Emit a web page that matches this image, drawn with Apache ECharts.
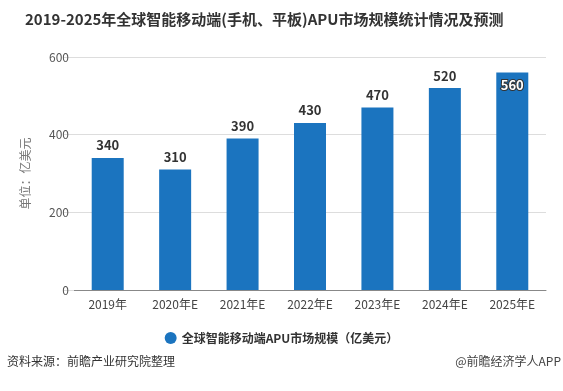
<!DOCTYPE html>
<html><head><meta charset="utf-8">
<script src="https://cdn.jsdelivr.net/npm/echarts@6/dist/echarts.min.js"></script>
<style>html,body{margin:0;padding:0;background:#fff}#c{width:563px;height:391px}</style>
</head><body><div id="c"></div>
<script>
var categories = ['2019年','2020年E','2021年E','2022年E','2023年E','2024年E','2025年E'];
var values = [340, 310, 390, 430, 470, 520, 560];
var yTicks = [0, 200, 400, 600];
var seriesName = '全球智能移动端APU市场规模（亿美元）';
var titleText = '2019-2025年全球智能移动端(手机、平板)APU市场规模统计情况及预测';
var sourceText = '资料来源：前瞻产业研究院整理';
var brandText = '@前瞻经济学人APP';

var FONT = '"Noto Sans CJK SC", "Noto Sans", sans-serif';
var chart = echarts.init(document.getElementById('c'), null, {renderer:'canvas'});
var data = values.map(function(v, i){
  if (i === values.length - 1) {
    return {value: v, label: {position: 'insideTop', distance: 6, color: '#fff', textBorderColor: '#333', textBorderWidth: 2}};
  }
  return v;
});
chart.setOption({
  backgroundColor: '#fff',
  textStyle: {fontFamily: FONT},
  title: {text: titleText, left: 20, top: 7,
    textStyle: {fontSize: 15, fontWeight: 'bold', color: '#333', fontFamily: FONT}},
  legend: {data: [seriesName], bottom: 42, left: 'center', icon: 'circle', itemWidth: 12, itemHeight: 12,
    textStyle: {fontSize: 12, fontWeight: 'bold', color: '#333', fontFamily: FONT}},
  grid: {left: 74, right: 17, top: 57, bottom: 101, containLabel: false},
  xAxis: {type: 'category', data: categories,
    axisLine: {lineStyle: {color: '#888'}},
    axisTick: {alignWithLabel: true, length: 5, lineStyle: {color: '#888'}},
    axisLabel: {color: '#444', fontSize: 12, margin: 8, fontFamily: FONT}},
  yAxis: {type: 'value', min: yTicks[0], max: yTicks[yTicks.length-1], interval: 200,
    name: '单位：亿美元', nameLocation: 'middle', nameGap: 43, nameRotate: 90,
    nameTextStyle: {color: '#777', fontSize: 12, fontFamily: FONT},
    axisLine: {show: false},
    axisTick: {show: true, length: 11, lineStyle: {color: '#ddd'}},
    splitLine: {lineStyle: {color: '#ddd'}},
    axisLabel: {color: '#555', fontSize: 12, margin: 5, fontFamily: FONT}},
  series: [{name: seriesName, type: 'bar', data: data, barWidth: 32,
    itemStyle: {color: '#1b74bf'},
    label: {show: true, position: 'top', distance: 6, fontSize: 13, fontWeight: 'bold', color: '#333', fontFamily: FONT}}],
  graphic: [
    {type: 'text', left: 7, top: 355, style: {text: sourceText, font: '12px ' + FONT, fill: '#333'}},
    {type: 'text', right: 2, top: 355, style: {text: brandText, font: '12px ' + FONT, fill: '#444'}}
  ]
});
</script></body></html>
